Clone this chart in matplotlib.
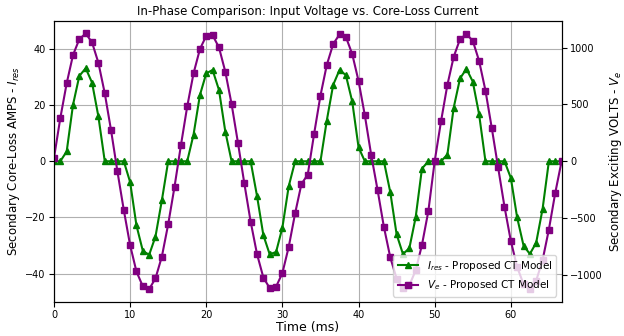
import matplotlib
matplotlib.use("Agg")
import matplotlib.pyplot as plt

# sample times (ms), one every ~0.833 ms
time_ms = [0.00, 0.83, 1.67, 2.50, 3.33, 4.17, 5.00, 5.83, 6.67, 7.50,
           8.33, 9.17, 10.00, 10.83, 11.67, 12.50, 13.33, 14.17, 15.00, 15.83,
           16.67, 17.50, 18.33, 19.17, 20.00, 20.83, 21.67, 22.50, 23.33, 24.17,
           25.00, 25.83, 26.67, 27.50, 28.33, 29.17, 30.00, 30.83, 31.67, 32.50,
           33.33, 34.17, 35.00, 35.83, 36.67, 37.50, 38.33, 39.17, 40.00, 40.83,
           41.67, 42.50, 43.33, 44.17, 45.00, 45.83, 46.67, 47.50, 48.33, 49.17,
           50.00, 50.83, 51.67, 52.50, 53.33, 54.17, 55.00, 55.83, 56.67, 57.50,
           58.33, 59.17, 60.00, 60.83, 61.67, 62.50, 63.33, 64.17, 65.00, 65.83,
           66.67]

# core-loss current (A)
i_res = [0, 0, 3.5, 20.1, 30.4, 33.1, 28.0, 16.0, 0, 0,
         0, 0, -7.4, -22.8, -31.9, -33.3, -26.8, -13.9, 0, 0,
         0, 0, 9.5, 23.6, 31.3, 32.5, 25.4, 10.6, 0, 0,
         0, 0, -12.4, -26.3, -33.1, -32.3, -23.6, -8.9, 0, 0,
         0, 0, 0, 14.5, 27.2, 32.5, 30.7, 21.3, 5.0, 0,
         0, 0, 0, -11.0, -26.0, -33.0, -31.0, -20.0, -2.6, 0,
         0, 0, 2.4, 19.1, 29.5, 32.9, 28.4, 16.8, 0, 0,
         0, 0, -5.9, -20.0, -30.0, -33.0, -29.0, -17.0, 0, 0,
         0]

# exciting voltage (V)
v_e = [29, 379, 686, 934, 1074, 1124, 1045, 867, 598, 271,
       -88, -429, -738, -969, -1100, -1124, -1030, -838, -554, -225,
       140, 482, 773, 987, 1103, 1109, 1001, 788, 502, 160,
       -195, -531, -817, -1022, -1115, -1103, -983, -753, -458, -200,
       -117, 243, 578, 847, 1031, 1115, 1095, 943, 707, 403,
       53, -252, -577, -845, -1031, -1116, -1091, -960, -735, -438,
       0, 350, 672, 919, 1074, 1118, 1060, 884, 622, 292,
       -53, -400, -700, -930, -1080, -1120, -1050, -870, -600, -280,
       0]

fig, ax = plt.subplots(figsize=(6.24, 3.36), dpi=100)
fig.subplots_adjust(left=0.0865, right=0.900, top=0.938, bottom=0.102)

l1, = ax.plot(time_ms, i_res, color="green", marker="^", markersize=5,
              linewidth=1.5, label="$I_{res}$ - Proposed CT Model")
ax.set_xlim(0, 66.67)
ax.set_ylim(-50, 50)
ax.set_yticks([-40, -20, 0, 20, 40])
ax.set_xlabel("Time (ms)", fontsize=9, labelpad=1)
ax.set_ylabel("Secondary Core-Loss AMPS - $I_{res}$", fontsize=8.5, labelpad=2)
ax.tick_params(labelsize=7, pad=2.5)
ax.grid(True, color="#b0b0b0", linewidth=0.8)
ax.set_title("In-Phase Comparison: Input Voltage vs. Core-Loss Current",
             fontsize=8.5, pad=4)

ax2 = ax.twinx()
l2, = ax2.plot(time_ms, v_e, color="purple", marker="s", markersize=5,
               linewidth=1.5, label="$V_e$ - Proposed CT Model")
ax2.set_ylim(-1235, 1235)
ax2.set_yticks([-1000, -500, 0, 500, 1000])
ax2.set_ylabel("Secondary Exciting VOLTS - $V_e$", fontsize=8.5, labelpad=3)
ax2.tick_params(labelsize=7, pad=2.5)

ax2.legend(handles=[l1, l2], loc="lower right", fontsize=7.5)

fig.savefig("out.png", dpi=100)
